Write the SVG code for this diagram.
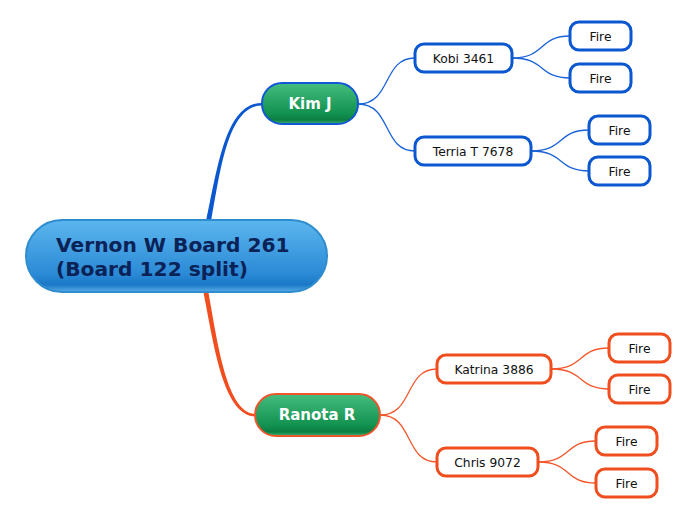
<svg xmlns="http://www.w3.org/2000/svg" width="696" height="520" viewBox="0 0 696 520">
<defs>
<linearGradient id="gRoot" x1="0" y1="0" x2="0" y2="1">
<stop offset="0" stop-color="#5cb6ee"/>
<stop offset="0.75" stop-color="#2b8ad6"/>
<stop offset="0.9" stop-color="#1a78c6"/>
<stop offset="1" stop-color="#5aaee8"/>
</linearGradient>
<linearGradient id="gGreen" x1="0" y1="0" x2="0" y2="1">
<stop offset="0" stop-color="#45bd7f"/>
<stop offset="0.75" stop-color="#12914f"/>
<stop offset="0.9" stop-color="#0b7d42"/>
<stop offset="1" stop-color="#3bb472"/>
</linearGradient>
<style>
.root{fill:url(#gRoot);stroke:#2f8ccf;stroke-width:2}
.mainB{fill:url(#gGreen);stroke:#1257d6;stroke-width:2}
.mainO{fill:url(#gGreen);stroke:#f0542a;stroke-width:2}
.subB{fill:#fff;stroke:#0a57d0;stroke-width:3}
.subO{fill:#fff;stroke:#f04e1e;stroke-width:3}
.cB{fill:none;stroke:#1a62d8;stroke-width:1.3}
.cO{fill:none;stroke:#f2582c;stroke-width:1.3}
.t{font-family:"DejaVu Sans",Verdana,sans-serif;font-size:12.3px;fill:#111;text-anchor:middle}
.tm{font-family:"DejaVu Sans",Verdana,sans-serif;font-size:15px;font-weight:bold;fill:#fff;text-anchor:middle}
.tr{font-family:"DejaVu Sans",Verdana,sans-serif;font-size:20.2px;font-weight:bold;fill:#0b2257}
</style>
</defs>
<g id="connectors">
<path d="M206,222 C218,165 226,103 262,103 L262,105.5 C229,105.5 221,165 211,222 Z" fill="#0a57d0"/>
<path d="M203,290 C214,345 223,416.5 256,416.5 L256,414 C227,414 218,345 208,290 Z" fill="#f04e1e"/>
<path class="cB" d="M358,104 C392,104 382,58 415,58"/>
<path class="cB" d="M358,104 C392,104 382,151 415,151"/>
<path class="cB" d="M512,58 C546,58 538,36 570,36"/>
<path class="cB" d="M512,58 C546,58 538,78 570,78"/>
<path class="cB" d="M531,151 C565,151 557,130 589,130"/>
<path class="cB" d="M531,151 C565,151 557,171 589,171"/>
<path class="cO" d="M380,415 C414,415 404,369 437,369"/>
<path class="cO" d="M380,415 C414,415 404,462 437,462"/>
<path class="cO" d="M551,369 C585,369 577,348 609,348"/>
<path class="cO" d="M551,369 C585,369 577,389 609,389"/>
<path class="cO" d="M538,462 C572,462 564,441 596,441"/>
<path class="cO" d="M538,462 C572,462 564,483 596,483"/>
</g>
<g id="root">
<rect class="root" x="26" y="220" width="301" height="72" rx="36"/>
<text class="tr" x="56" y="252">Vernon W Board 261</text>
<text class="tr" x="56" y="276">(Board 122 split)</text>
</g>
<g id="kimj">
<rect class="mainB" x="262" y="83" width="96" height="41" rx="20"/>
<text class="tm" x="310" y="109">Kim J</text>
</g>
<g id="ranota">
<rect class="mainO" x="255" y="394" width="125" height="42" rx="21"/>
<text class="tm" x="317" y="420">Ranota R</text>
</g>
<g id="kobi">
<rect class="subB" x="415" y="44" width="97" height="28" rx="9"/>
<text class="t" x="463.5" y="63">Kobi 3461</text>
</g>
<g id="kobi-fire1">
<rect class="subB" x="570" y="22" width="61" height="28" rx="9"/>
<text class="t" x="600.5" y="41">Fire</text>
</g>
<g id="kobi-fire2">
<rect class="subB" x="570" y="64" width="61" height="28" rx="9"/>
<text class="t" x="600.5" y="83">Fire</text>
</g>
<g id="terria">
<rect class="subB" x="415" y="137" width="116" height="28" rx="9"/>
<text class="t" x="473" y="156">Terria T 7678</text>
</g>
<g id="terria-fire1">
<rect class="subB" x="589" y="116" width="61" height="28" rx="9"/>
<text class="t" x="619.5" y="135">Fire</text>
</g>
<g id="terria-fire2">
<rect class="subB" x="589" y="157" width="61" height="28" rx="9"/>
<text class="t" x="619.5" y="176">Fire</text>
</g>
<g id="katrina">
<rect class="subO" x="437" y="355" width="114" height="28" rx="9"/>
<text class="t" x="494" y="374">Katrina 3886</text>
</g>
<g id="katrina-fire1">
<rect class="subO" x="609" y="334" width="61" height="28" rx="9"/>
<text class="t" x="639.5" y="353">Fire</text>
</g>
<g id="katrina-fire2">
<rect class="subO" x="609" y="375" width="61" height="28" rx="9"/>
<text class="t" x="639.5" y="394">Fire</text>
</g>
<g id="chris">
<rect class="subO" x="437" y="448" width="101" height="28" rx="9"/>
<text class="t" x="487.5" y="467">Chris 9072</text>
</g>
<g id="chris-fire1">
<rect class="subO" x="596" y="427" width="61" height="28" rx="9"/>
<text class="t" x="626.5" y="446">Fire</text>
</g>
<g id="chris-fire2">
<rect class="subO" x="596" y="469" width="61" height="28" rx="9"/>
<text class="t" x="626.5" y="488">Fire</text>
</g>
</svg>
